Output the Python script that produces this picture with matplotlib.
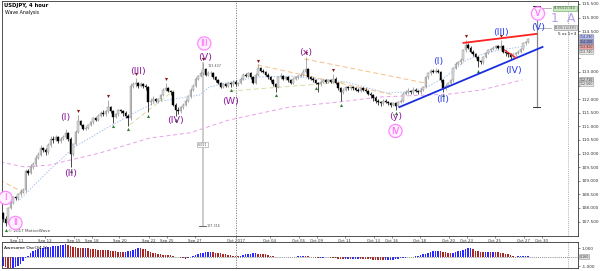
import numpy as np
import matplotlib
matplotlib.use('Agg')
import matplotlib.pyplot as plt

# 4h candles, USDJPY (bar 0 = Sep 8)
close = [107.60, 107.45, 108.00, 108.20, 108.40, 108.35, 108.50, 108.60, 108.65, 109.35,
         109.30, 109.50, 109.60, 109.85, 109.95, 110.20, 110.15, 110.05, 110.30, 110.55,
         110.50, 110.60, 110.45, 110.55, 110.60, 110.75, 110.55, 110.00, 110.35, 110.80,
         111.20, 111.05, 110.90, 110.95, 111.05, 111.15, 111.30, 111.25, 111.40, 111.50,
         111.45, 111.55, 111.70, 111.55, 111.35, 111.45, 111.60, 111.55, 111.50, 111.40,
         111.30, 112.50, 112.55, 112.60, 112.50, 112.55, 112.50, 112.45, 111.90, 111.95,
         112.00, 111.95, 112.00, 112.15, 112.35, 112.40, 112.30, 112.25, 111.80, 111.60,
         111.55, 111.70, 111.80, 111.95, 112.10, 112.35, 112.50, 112.75, 112.85, 112.95,
         113.10, 112.90, 112.95, 112.95, 112.80, 112.70, 112.60, 112.45, 112.55, 112.50,
         112.60, 112.55, 112.65, 112.55, 112.60, 112.75, 112.90, 112.85, 112.95, 112.80,
         112.60, 112.90, 113.15, 113.05, 113.00, 112.90, 112.80, 112.70, 112.55, 112.45,
         112.80, 112.85, 112.75, 112.80, 112.70, 112.60, 112.75, 112.80, 112.85, 112.90,
         113.00, 113.10, 112.80, 112.75, 112.70, 112.60, 112.55, 112.65, 112.70, 112.65,
         112.70, 112.65, 112.75, 112.60, 112.40, 112.25, 112.35, 112.45, 112.40, 112.45,
         112.40, 112.35, 112.30, 112.40, 112.35, 112.30, 112.20, 112.15, 112.05, 111.95,
         111.90, 111.85, 111.95, 111.90, 111.85, 111.80, 111.85, 111.75, 111.90, 111.95,
         112.20, 112.25, 112.30, 112.25, 112.35, 112.30, 112.25, 112.35, 112.45, 112.80,
         112.95, 113.05, 113.00, 113.05, 113.00, 112.70, 112.40, 112.50, 112.60, 112.70,
         113.15, 113.30, 113.35, 113.45, 113.80, 114.00, 113.90, 113.75, 113.65, 113.55,
         113.40, 113.35, 113.55, 113.70, 113.80, 113.85, 113.90, 113.95, 113.90, 113.95,
         113.75, 113.70, 113.65, 113.55, 113.65, 113.70, 113.75, 113.85, 114.05, 114.10, 114.20]
first_open = 107.80
high = [107.85, 107.70, 108.05, 108.30, 108.45, 108.45, 108.55, 108.70, 108.75, 109.45,
        109.45, 109.60, 109.70, 109.95, 110.05, 110.30, 110.25, 110.20, 110.40, 110.65,
        110.65, 110.70, 110.65, 110.60, 110.70, 110.90, 110.80, 110.60, 110.40, 110.85,
        111.42, 111.25, 111.10, 111.00, 111.10, 111.20, 111.35, 111.35, 111.45, 111.55,
        111.60, 111.60, 111.97, 111.75, 111.60, 111.50, 111.65, 111.65, 111.60, 111.55,
        111.45, 112.60, 112.65, 112.78, 112.65, 112.65, 112.60, 112.55, 112.50, 112.05,
        112.10, 112.05, 112.05, 112.20, 112.40, 112.60, 112.45, 112.35, 112.30, 111.85,
        111.70, 111.75, 111.85, 112.00, 112.15, 112.40, 112.55, 112.80, 112.90, 113.05,
        113.33, 113.15, 113.05, 113.05, 113.00, 112.85, 112.75, 112.65, 112.60, 112.60,
        112.65, 112.65, 112.70, 112.70, 112.65, 112.80, 112.95, 112.95, 113.00, 113.00,
        112.85, 112.95, 113.29, 113.20, 113.10, 113.05, 112.95, 112.85, 112.75, 112.60,
        112.85, 112.95, 112.90, 112.85, 112.85, 112.75, 112.80, 112.85, 112.90, 112.95,
        113.10, 113.55, 113.15, 112.85, 112.80, 112.75, 112.65, 112.70, 112.75, 112.75,
        112.75, 112.75, 112.93, 112.80, 112.65, 112.45, 112.40, 112.50, 112.50, 112.50,
        112.50, 112.45, 112.40, 112.45, 112.45, 112.40, 112.35, 112.25, 112.20, 112.10,
        112.00, 111.95, 112.00, 112.00, 111.95, 111.90, 111.90, 111.90, 111.95, 112.00,
        112.25, 112.35, 112.40, 112.35, 112.45, 112.40, 112.35, 112.40, 112.50, 112.85,
        113.00, 113.10, 113.10, 113.15, 113.10, 113.05, 112.75, 112.55, 112.65, 112.75,
        113.20, 113.35, 113.40, 113.50, 113.85, 114.18, 114.05, 113.95, 113.80, 113.70,
        113.60, 113.45, 113.60, 113.75, 113.85, 113.90, 113.95, 114.00, 114.00, 114.18,
        114.00, 113.80, 113.75, 113.70, 113.70, 113.75, 113.80, 113.90, 114.10, 114.15, 114.26]
low = [107.50, 107.32, 107.40, 107.95, 108.15, 108.30, 108.30, 108.45, 108.55, 108.60,
       109.20, 109.25, 109.45, 109.55, 109.80, 109.90, 110.05, 109.95, 110.00, 110.25,
       110.40, 110.45, 110.40, 110.40, 110.50, 110.55, 110.45, 109.50, 109.90, 110.30,
       110.75, 111.00, 110.85, 110.85, 110.90, 111.00, 111.10, 111.20, 111.20, 111.35,
       111.40, 111.40, 111.50, 111.50, 111.13, 111.30, 111.40, 111.50, 111.40, 111.30,
       111.02, 111.25, 112.40, 112.45, 112.40, 112.45, 112.40, 112.35, 111.53, 111.80,
       111.85, 111.90, 111.85, 111.95, 112.10, 112.30, 112.25, 112.15, 111.75, 111.38,
       111.45, 111.50, 111.65, 111.75, 111.90, 112.05, 112.30, 112.45, 112.70, 112.80,
       112.90, 112.85, 112.85, 112.85, 112.75, 112.65, 112.55, 112.40, 112.40, 112.45,
       112.45, 112.45, 112.50, 112.50, 112.50, 112.55, 112.70, 112.80, 112.80, 112.75,
       112.55, 112.55, 112.85, 113.00, 112.95, 112.85, 112.75, 112.65, 112.50, 112.27,
       112.40, 112.75, 112.70, 112.70, 112.65, 112.55, 112.55, 112.70, 112.75, 112.80,
       112.85, 112.95, 112.75, 112.70, 112.65, 112.55, 112.27, 112.50, 112.60, 112.60,
       112.60, 112.60, 112.60, 112.55, 112.35, 111.93, 112.20, 112.30, 112.35, 112.35,
       112.35, 112.30, 112.25, 112.25, 112.30, 112.25, 112.15, 112.05, 111.95, 111.85,
       111.80, 111.75, 111.80, 111.85, 111.80, 111.70, 111.75, 111.62, 111.70, 111.85,
       111.90, 112.15, 112.20, 112.20, 112.20, 112.25, 112.20, 112.20, 112.30, 112.40,
       112.75, 112.90, 112.95, 112.95, 112.95, 112.65, 112.27, 112.35, 112.45, 112.55,
       112.65, 113.10, 113.25, 113.30, 113.40, 113.75, 113.85, 113.70, 113.60, 113.50,
       113.18, 113.30, 113.30, 113.50, 113.65, 113.75, 113.80, 113.85, 113.85, 113.85,
       113.70, 113.60, 113.55, 113.45, 113.50, 113.60, 113.65, 113.70, 113.80, 114.00, 114.05]

# Awesome Oscillator (34,5) per bar
ao = [-1.00, -1.15, -1.25, -1.30, -1.25, -1.15, -1.00, -0.75, -0.45, -0.15,
      0.15, 0.45, 0.65, 0.80, 0.90, 1.00, 1.05, 1.08, 1.12, 1.15,
      1.18, 1.22, 1.26, 1.30, 1.38, 1.40, 1.32, 1.22, 1.15, 1.10,
      1.05, 1.00, 0.98, 1.00, 0.95, 0.90, 0.88, 0.85, 0.83, 0.80,
      0.78, 0.76, 0.73, 0.70, 0.68, 0.64, 0.60, 0.55, 0.52, 0.58,
      0.65, 0.72, 0.82, 0.92, 1.00, 0.98, 0.94, 0.88, 0.72, 0.55,
      0.48, 0.42, 0.36, 0.30, 0.27, 0.25, 0.22, 0.20, 0.15, 0.05,
      -0.05, -0.10, -0.15, -0.20, -0.12, 0.00, 0.12, 0.25, 0.35, 0.45,
      0.50, 0.52, 0.54, 0.55, 0.52, 0.48, 0.44, 0.40, 0.35, 0.30,
      0.25, 0.20, 0.16, 0.12, 0.10, 0.15, 0.22, 0.30, 0.34, 0.37,
      0.39, 0.40, 0.38, 0.35, 0.32, 0.30, 0.24, 0.16, 0.08, 0.02,
      0.00, 0.01, 0.00, 0.02, 0.01, -0.01, 0.00, 0.03, 0.06, 0.10,
      0.12, 0.10, 0.08, 0.05, 0.00, -0.08, -0.10, -0.08, -0.06, -0.05,
      -0.04, -0.06, -0.10, -0.16, -0.22, -0.25, -0.26, -0.24, -0.23, -0.25,
      -0.24, -0.22, -0.20, -0.21, -0.23, -0.24, -0.25, -0.27, -0.30, -0.33,
      -0.35, -0.36, -0.37, -0.36, -0.34, -0.31, -0.28, -0.24, -0.20, -0.15,
      -0.11, -0.07, -0.03, 0.00, 0.04, 0.08, 0.13, 0.20, 0.28, 0.38,
      0.47, 0.55, 0.62, 0.67, 0.70, 0.66, 0.60, 0.55, 0.50, 0.46,
      0.50, 0.56, 0.63, 0.72, 0.82, 0.90, 0.96, 1.00, 0.88, 0.72,
      0.65, 0.60, 0.55, 0.55, 0.57, 0.56, 0.58, 0.56, 0.54, 0.50,
      0.45, 0.38, 0.30, 0.20, 0.12, 0.05, 0.08, 0.13, 0.15, 0.16, 0.16]

# moving averages read as (bar, price) points
fast_ma_bar = [6.6, 18.6, 28.6, 38.6, 54.6, 61.4, 70.6, 78.6, 82.6, 90.6, 102.6, 114.6,
               137.4, 153.4, 162.6, 170.6, 177.4, 185.4, 194.6, 203.8, 209.4]
fast_ma_val = [108.3, 109.4, 110.24, 110.79, 111.6, 111.9, 112.04, 112.15, 112.45, 112.63,
               112.82, 112.85, 112.63, 112.23, 112.27, 112.49, 112.85, 113.44, 113.74, 113.88, 113.96]
slow_ma_bar = [-1.0, 8.6, 18.6, 38.6, 58.6, 74.6, 90.6, 114.6, 134.6, 150.6, 178.6, 191.4, 207.8]
slow_ma_val = [109.69, 109.51, 109.58, 110.02, 110.57, 110.76, 111.24, 111.71, 111.9, 112.08,
               112.19, 112.34, 112.71]

# fractal markers
fractal_highs = [30, 42, 53, 65, 80, 102, 121, 132, 185, 199]
fractal_lows = [1, 27, 44, 50, 58, 69, 91, 109, 125, 135, 157, 176, 190]

# trend lines (bar, price)
support_line = ([158.6, 215.8], [111.71, 113.92])
resist_line = ([184.2, 213.4], [114.07, 114.40])
iv_line = ([200.6, 205.4], [113.81, 113.51])
orange_lines = [([120.6, 168.6], [113.48, 112.60]),
                ([101.8, 156.6], [113.26, 112.15]),
                ([-1.4, 8.6], [109.03, 108.55])]
olive_lines = [([50.6, 68.6], [111.05, 112.34]),
               ([91.0, 136.6], [112.30, 112.63])]

# date axis: labels and trading days after Sep 8
date_labels = ['Sep 11', 'Sep 13', 'Sep 15', 'Sep 18', 'Sep 20', 'Sep 22', 'Sep 25', 'Sep 27',
               'Oct 2017', 'Oct 04', 'Oct 06', 'Oct 09', 'Oct 11', 'Oct 13', 'Oct 16', 'Oct 18',
               'Oct 20', 'Oct 23', 'Oct 25', 'Oct 27', 'Oct 30']
date_days = [1, 2.85, 4.8, 6, 7.85, 9.8, 11, 12.85, 15.6, 17.85, 19.8, 21, 22.85, 24.8, 26, 27.85,
             29.8, 31, 32.85, 34.8, 36]
price_ticks = [107.5, 108.0, 108.5, 109.0, 109.5, 110.0, 110.5, 111.0, 111.5, 112.0,
               112.5, 113.0, 113.5, 114.0, 114.5, 115.0, 115.5]
hidden_ticks = [112.5, 113.5, 114.0]   # covered by the price tags

# wave labels: (text, bar, price)
purple_waves = [('(I)', 25, 111.31), ('(II)', 27, 109.25), ('(III)', 54, 113.0),
                ('(IV)', 69, 111.2), ('(V)', 81, 113.55), ('(W)', 91, 111.9),
                ('(x)', 121, 113.7), ('(y)', 157, 111.35)]
blue_waves = [('(I)', 174, 113.4), ('(II)', 176, 112.0), ('(III)', 199, 114.47),
              ('(IV)', 204, 113.04), ('(V)', 214, 114.62)]
circle_waves = [('I', 1, 108.37), ('II', 5, 107.45), ('III', 80.5, 114.05),
                ('IV', 157, 110.83), ('V', 214, 115.15)]

PURPLE = '#8a1a9a'
BLUE = '#2a3ff0'
PINK = '#ff55ff'

c = np.array(close)
o = np.r_[first_open, c[:-1]]
hi = np.array(high)
lo = np.array(low)
x = np.arange(len(c))
up = c >= o

fig = plt.figure(figsize=(6, 2.71), dpi=100)
ax = fig.add_axes([2 / 600, 35 / 271, 576 / 600, 235 / 271])
ax2 = fig.add_axes([2 / 600, 3 / 271, 576 / 600, 26 / 271])

for a in (ax, ax2):
    a.set_xlim(-0.4, 230.0)
    for s in a.spines.values():
        s.set_linewidth(0.6)
        s.set_color('#333333')
ax.set_ylim(106.97, 115.61)
ax2.set_ylim(-1.222, 1.667)

# moving averages
ax.plot(slow_ma_bar, slow_ma_val, color='#e8a0e8', lw=0.7, ls=(0, (4, 3)))
ax.plot(fast_ma_bar, fast_ma_val, color='#a8c4f0', lw=0.7, ls=(0, (1.5, 1.5)))
for bx, by in orange_lines:
    ax.plot(bx, by, color='#f5c08a', lw=0.7, ls=(0, (5, 3)))
for bx, by in olive_lines:
    ax.plot(bx, by, color='#d8dca0', lw=0.7, ls=(0, (5, 3)))

# candles
wick_col = np.where(up, '#8a8a8a', '#000000')
ax.vlines(x, lo, hi, colors=wick_col, lw=0.5, zorder=3)
body_bot = np.minimum(o, c)
body_h = np.maximum(np.abs(c - o), 0.02)
ax.bar(x, body_h, bottom=body_bot, width=0.72,
       color=np.where(up, '#dcdcdc', '#000000'),
       edgecolor=np.where(up, '#8a8a8a', '#000000'), lw=0.3, zorder=4)

# fractals
ax.scatter(fractal_highs, hi[fractal_highs] + 0.13, marker='v', s=5, color='#8b1a1a', zorder=5, lw=0)
ax.scatter(fractal_lows, lo[fractal_lows] - 0.13, marker='^', s=5, color='#2e7d2e', zorder=5, lw=0)

# measure lines
mx = fractal_highs[4] - 0.2
ax.plot([mx, mx], [lo[1], hi[80]], color='#c8c8c8', lw=1.3, zorder=2)
ax.plot([mx - 1.5, mx + 1.5], [lo[1], lo[1]], color='#555555', lw=0.6)
ax.text(mx + 1.5, lo[1], '107.316', fontsize=2.4, color='#555555', va='center')
ax.text(mx, (lo[1] + hi[80]) / 2, '6.021', fontsize=2.4, color='#555555', ha='center', va='center',
        bbox=dict(boxstyle='square,pad=0.2', fc='white', ec='#999999', lw=0.4))
ax.text(mx + 2, hi[80] - 0.12, '113.437', fontsize=2.4, color='#555555', va='center')

tx = 213.4
ax.plot([tx, tx], [111.71, 115.43], color='#888888', lw=0.9, zorder=2)
ax.plot([tx - 1.5, tx + 1.5], [111.71, 111.71], color='#333333', lw=0.7)
ax.plot([tx - 1.5, tx + 1.5], [115.43, 115.43], color='#333333', lw=0.7)
ax.plot([tx, 219], [115.35, 115.35], color='#999999', lw=0.5)
ax.plot([tx, 219], [114.62, 114.62], color='#999999', lw=0.5)
ax.text(229.3, 115.35, '61.8%(115.341)', fontsize=2.0, ha='right', va='center', color='#444444',
        bbox=dict(boxstyle='square,pad=0.2', fc='#c8ecc0', ec='#6aa060', lw=0.4))
ax.text(229.3, 114.62, '50.0%(114.635)', fontsize=2.0, ha='right', va='center', color='#444444',
        bbox=dict(boxstyle='square,pad=0.2', fc='#e4e4e4', ec='#888888', lw=0.4))
ax.text(229.3, 114.40, '5 vs 1+3', fontsize=3.0, ha='right', va='center', color='#111111')

# trend lines
ax.plot(*support_line, color='#1a2ee0', lw=1.3, zorder=6)
ax.plot(*resist_line, color='#ff2020', lw=1.3, zorder=6)
ax.plot(*iv_line, color='#ff2020', lw=0.9, zorder=6)

# wave labels
for t, bx, by in purple_waves:
    ax.text(bx, by, t, color=PURPLE, fontsize=6.8, ha='center', va='center', zorder=7)
for t, bx, by in blue_waves:
    ax.text(bx, by, t, color=BLUE, fontsize=6.8, ha='center', va='center', zorder=7)
for t, bx, by in circle_waves:
    ax.text(bx, by, t, color=PINK, fontsize=6.0, ha='center', va='center', zorder=7,
            bbox=dict(boxstyle='circle,pad=0.25', fc='#fff0ff', ec='#ff88ff', lw=0.9))
ax.text(224, 114.98, '1  A', color='#b8a0e6', fontsize=9, ha='center', va='center')

# oct boundary + chart shift lines
oct_pos = 6 * date_days[8] - 0.5
for a in (ax, ax2):
    a.axvline(oct_pos, color='#777777', lw=0.6, ls=(0, (1.5, 1.5)))
    a.axvline(226, color='#999999', lw=0.5, ls=(0, (1.5, 1.5)))

# right price tags
tags = [(114.29, '#b8c0ff'), (114.10, '#8c90c8'), (113.92, '#f0a0a0'), (113.74, '#e8e8e8'),
        (112.71, '#d0d0d0'), (112.56, '#e8e8e8')]
for val, col in tags:
    ax.text(230.8, val, f'{val:.3f}', fontsize=2.3, va='center', ha='left', color='#333333',
            bbox=dict(boxstyle='round,pad=0.12', fc=col, ec='#777777', lw=0.3), clip_on=False)

# axes styling
ax.yaxis.tick_right()
ax.set_yticks(price_ticks)
ax.set_yticklabels(['' if v in hidden_ticks else f'{v:.3f}' for v in price_ticks])
ax.tick_params(axis='y', labelsize=3.1, length=1.5, width=0.4, pad=1, colors='#333333')
ax.set_xticks([6 * d - 0.5 for d in date_days])
ax.set_xticklabels(date_labels)
ax.tick_params(axis='x', labelsize=2.8, length=1.5, width=0.4, pad=0.8, colors='#333333')

ax.text(0.004, 0.992, 'USDJPY, 4 hour', transform=ax.transAxes, fontsize=3.8, weight='bold',
        va='top', ha='left')
ax.text(0.006, 0.962, 'Wave Analysis', transform=ax.transAxes, fontsize=3.4, va='top', ha='left')
ax.text(0.01, 0.012, '© 2017 MotiveWave', transform=ax.transAxes, fontsize=3, va='bottom',
        ha='left', color='#444444')

# awesome oscillator
aov = np.array(ao)
ao_up = np.r_[True, aov[1:] >= aov[:-1]]
ax2.bar(x, aov, width=0.62, color=np.where(ao_up, '#2828ff', '#a82828'), lw=0)
ax2.axhline(0, color='#666666', lw=0.5, ls=(0, (1.5, 1.5)))
ax2.set_xticks([])
ax2.yaxis.tick_right()
ax2.set_yticks([1, -1])
ax2.set_yticklabels(['1.000', '-1.000'])
ax2.tick_params(axis='y', labelsize=3.1, length=1.5, width=0.4, pad=1, colors='#333333')
ax2.text(230.8, 0, f'{aov[-1]:.3f}', fontsize=2.3, va='center', ha='left', color='#333333',
         bbox=dict(boxstyle='round,pad=0.12', fc='#e0e0e0', ec='#777777', lw=0.3), clip_on=False)
ax2.text(0.004, 0.86, 'Awesome Osc(34,5)', transform=ax2.transAxes, fontsize=3.2, va='top',
         ha='left')

fig.savefig('out.png', dpi=100)
